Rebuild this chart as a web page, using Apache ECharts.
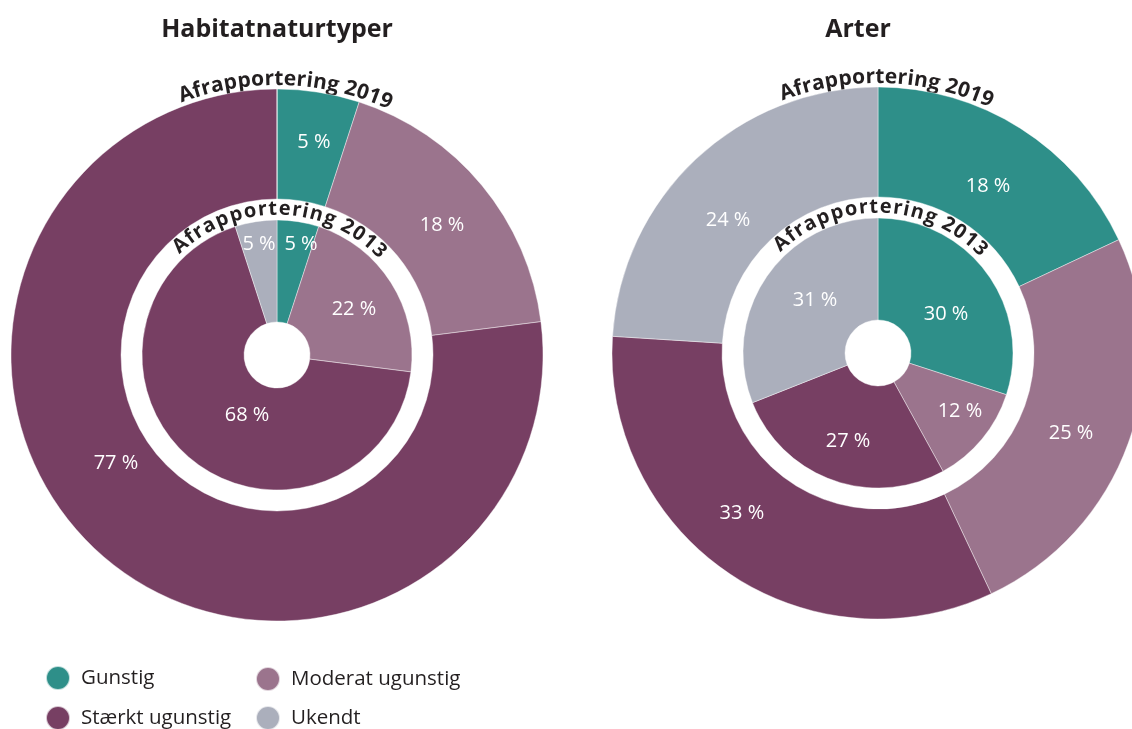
<!DOCTYPE html>
<html>
<head>
<meta charset="utf-8">
<script src="https://cdn.jsdelivr.net/npm/echarts@6/dist/echarts.min.js"></script>
<style>
html,body{margin:0;padding:0;background:#fff;}
#chart{width:1132px;height:729px;}
</style>
</head>
<body>
<div id="chart"></div>
<script>
// ---- data ----
const categories = ['Gunstig', 'Moderat ugunstig', 'Stærkt ugunstig', 'Ukendt'];
const habitat2019 = [5, 18, 77, 0];
const habitat2013 = [5, 22, 68, 5];
const arter2019 = [18, 25, 33, 24];
const arter2013 = [30, 12, 27, 31];
const chartTitles = ['Habitatnaturtyper', 'Arter'];
const ringTitles = ['Afrapportering 2019', 'Afrapportering 2013'];

// ---- style / layout ----
const colors = ['#2e8f89', '#9b748d', '#773f63', '#abafbc'];
const FONT = '"Open Sans", "Noto Sans", sans-serif';
const centers = [[277, 355], [878, 353]];
const outerR = [156, 266], innerR = [33, 135];
// label spots (angle clockwise from top in degrees, radius) per series, in data order
const labelSpots = [
  [[9.85, 216], [51.8, 210], [236.1, 194], null],
  [[12.2, 113.6], [59.1, 89.7], [206.6, 67], [350.8, 112.4]],
  [[33.4, 200], [112.5, 209], [220.4, 210], [311.6, 200.5]],
  [[60.2, 78.4], [125.3, 100.4], [198.8, 93], [310.1, 82.3]]
];
const seriesCenter = [0, 0, 1, 1];
// legend item positions (left, top) in category order
const legendPos = [[45, 665], [255, 666], [45, 705], [255, 705]];

function toData(vals) {
  return categories.map((c, i) => ({ name: c, value: vals[i], itemStyle: { color: colors[i] } }));
}

function pieSeries(vals, ci, radius) {
  return {
    type: 'pie',
    center: centers[ci],
    radius: radius,
    startAngle: 90,
    clockwise: true,
    avoidLabelOverlap: false,
    emphasis: { scale: false },
    itemStyle: { borderColor: 'rgba(255,255,255,0.7)', borderWidth: 0.6 },
    label: {
      show: true,
      position: 'inside',
      color: '#fff',
      fontFamily: FONT,
      fontSize: 20,
      formatter: p => p.value > 0 ? p.value + ' %' : ''
    },
    labelLine: { show: false },
    data: toData(vals)
  };
}

const series = [
  pieSeries(habitat2019, 0, outerR),
  pieSeries(habitat2013, 0, innerR),
  pieSeries(arter2019, 1, outerR),
  pieSeries(arter2013, 1, innerR)
];

const labelLayout = function (params) {
  const spot = labelSpots[params.seriesIndex][params.dataIndex];
  if (!spot) return {};
  const c = centers[seriesCenter[params.seriesIndex]];
  const a = spot[0] * Math.PI / 180;
  return { x: c[0] + spot[1] * Math.sin(a), y: c[1] - spot[1] * Math.cos(a), align: 'center', verticalAlign: 'middle' };
};
series.forEach(s => { s.labelLayout = labelLayout; });

// curved text along an arc
const mctx = document.createElement('canvas').getContext('2d');
function arcText(text, c, r, a0, a1, fontSize) {
  const font = 'bold ' + fontSize + 'px ' + FONT;
  mctx.font = font;
  const chars = Array.from(text);
  const widths = chars.map(ch => mctx.measureText(ch).width);
  const W = widths.reduce((a, b) => a + b, 0);
  let cum = 0;
  const els = [];
  chars.forEach((ch, i) => {
    const t = (cum + widths[i] / 2) / W;
    cum += widths[i];
    const th = (a0 + t * (a1 - a0)) * Math.PI / 180;
    els.push({
      type: 'text',
      x: c[0] + r * Math.sin(th),
      y: c[1] - r * Math.cos(th),
      rotation: -th,
      silent: true,
      style: { text: ch, align: 'center', verticalAlign: 'middle', font: font, fill: '#231f20' }
    });
  });
  return els;
}

const graphics = [];
centers.forEach((c, i) => {
  graphics.push(...arcText(ringTitles[0], c, 276, -20.8, 24.5, 21));
  graphics.push(...arcText(ringTitles[1], c, 146, -44.5, 47, 20));
});
graphics.push({ type: 'text', x: 277, y: 30, silent: true,
  style: { text: chartTitles[0], align: 'center', verticalAlign: 'middle', font: 'bold 25px ' + FONT, fill: '#231f20' } });
graphics.push({ type: 'text', x: 858, y: 30, silent: true,
  style: { text: chartTitles[1], align: 'center', verticalAlign: 'middle', font: 'bold 25px ' + FONT, fill: '#231f20' } });

const legends = categories.map((c, i) => ({
  orient: 'horizontal',
  icon: 'circle',
  itemWidth: 24,
  itemHeight: 24,
  padding: 0,
  selectedMode: false,
  left: legendPos[i][0],
  top: legendPos[i][1],
  data: [c],
  textStyle: { fontFamily: FONT, fontSize: 20.5, color: '#231f20', padding: [0, 0, 0, 6] }
}));

const option = {
  animation: false,
  backgroundColor: '#fff',
  color: colors,
  legend: legends,
  graphic: graphics,
  series: series
};

const chart = echarts.init(document.getElementById('chart'), null, { renderer: 'canvas' });
chart.setOption(option);
</script>
</body>
</html>
